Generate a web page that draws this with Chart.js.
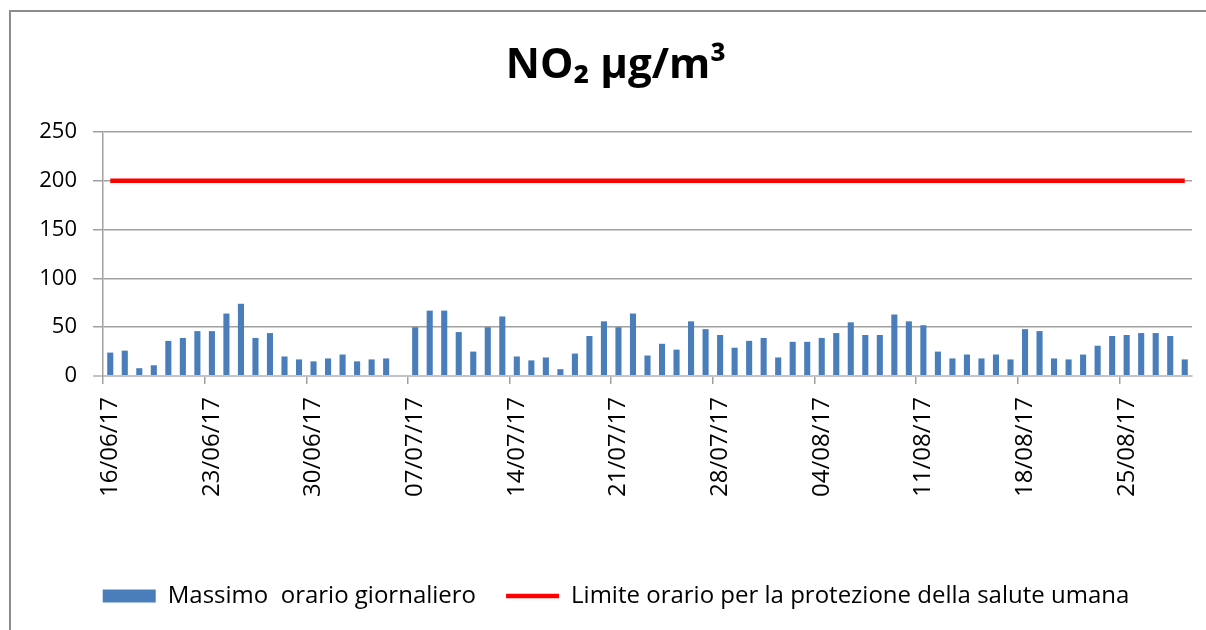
<!DOCTYPE html>
<html>
<head>
<meta charset="utf-8">
<script src="https://cdn.jsdelivr.net/npm/chart.js@4.4.1/dist/chart.umd.min.js"></script>
<style>
  html, body { margin: 0; padding: 0; background: #ffffff; overflow: hidden; }
  #wrap { position: relative; width: 1206px; height: 630px; overflow: hidden; background: #fff; }
  #frame { position: absolute; left: 9px; top: 10px; width: 1300px; height: 700px;
           border: 2px solid #8c8c8c; box-sizing: border-box; pointer-events: none; }
  canvas { position: absolute; left: 0; top: 0; }
</style>
</head>
<body>
<div id="wrap">
  <canvas id="c" width="1206" height="630"></canvas>
  <div id="frame"></div>
</div>
<script>
// ---- Data ----
const categories = [
  '16/06/17','17/06/17','18/06/17','19/06/17','20/06/17','21/06/17','22/06/17','23/06/17','24/06/17','25/06/17',
  '26/06/17','27/06/17','28/06/17','29/06/17','30/06/17','01/07/17','02/07/17','03/07/17','04/07/17','05/07/17',
  '06/07/17','07/07/17','08/07/17','09/07/17','10/07/17','11/07/17','12/07/17','13/07/17','14/07/17','15/07/17',
  '16/07/17','17/07/17','18/07/17','19/07/17','20/07/17','21/07/17','22/07/17','23/07/17','24/07/17','25/07/17',
  '26/07/17','27/07/17','28/07/17','29/07/17','30/07/17','31/07/17','01/08/17','02/08/17','03/08/17','04/08/17',
  '05/08/17','06/08/17','07/08/17','08/08/17','09/08/17','10/08/17','11/08/17','12/08/17','13/08/17','14/08/17',
  '15/08/17','16/08/17','17/08/17','18/08/17','19/08/17','20/08/17','21/08/17','22/08/17','23/08/17','24/08/17',
  '25/08/17','26/08/17','27/08/17','28/08/17','29/08/17'
];
const massimoOrario = [
  24, 26, 8, 11, 36, 39, 46, 46, 64, 74,
  39, 44, 20, 17, 15, 18, 22, 15, 17, 18,
  null, 50, 67, 67, 45, 25, 50, 61, 20, 16,
  19, 7, 23, 41, 56, 50, 64, 21, 33, 27,
  56, 48, 42, 29, 36, 39, 19, 35, 35, 39,
  44, 55, 42, 42, 63, 56, 52, 25, 18, 22,
  18, 22, 17, 48, 46, 18, 17, 22, 31, 41,
  42, 44, 44, 41, 17
];
const limiteOrario = 200;
const tickLabels = ['16/06/17','23/06/17','30/06/17','07/07/17','14/07/17','21/07/17','28/07/17','04/08/17','11/08/17','18/08/17','25/08/17'];
const yTicks = [0, 50, 100, 150, 200, 250];

Chart.defaults.font.family = "'Open Sans', 'Noto Sans', sans-serif";
Chart.defaults.color = '#000000';

const gridGray = '#a0a0a0';

new Chart(document.getElementById('c'), {
  data: {
    labels: categories,
    datasets: [
      {
        type: 'bar',
        label: 'Massimo  orario giornaliero',
        data: massimoOrario,
        backgroundColor: '#4a7ebb',
        borderWidth: 0,
        barPercentage: 0.42,
        categoryPercentage: 1.0,
        pointStyle: 'rect',
        order: 1
      },
      {
        type: 'line',
        label: 'Limite orario per la protezione della salute umana',
        data: [
          { x: categories[0], y: limiteOrario },
          { x: categories[categories.length - 1], y: limiteOrario }
        ],
        borderColor: '#ff0000',
        backgroundColor: '#ff0000',
        borderWidth: 4.5,
        pointRadius: 0,
        pointStyle: 'line',
        fill: false,
        order: 2
      }
    ]
  },
  options: {
    responsive: false,
    animation: false,
    devicePixelRatio: 1,
    layout: { padding: { left: 40, right: 14, top: 10, bottom: 12 } },
    plugins: {
      title: {
        display: true,
        text: 'NO\u2082 \u00b5g/m\u00b3',
        color: '#000',
        font: { size: 42, weight: 'bold', lineHeight: 1.2 },
        padding: { top: 31, bottom: 40.6 }
      },
      legend: {
        position: 'bottom',
        labels: {
          usePointStyle: true,
          pointStyleWidth: 53,
          boxHeight: 13,
          padding: 30,
          color: '#000',
          font: { size: 24 }
        }
      },
      tooltip: { enabled: false }
    },
    scales: {
      x: {
        type: 'category',
        offset: true,
        afterFit: (s) => { s.height = 178; s.paddingLeft = 0; s.paddingRight = 0; },
        grid: {
          offset: true,
          drawOnChartArea: false,
          drawTicks: true,
          tickLength: 8,
          lineWidth: 1.5,
          color: (ctx) => (ctx.index % 7 === 0 ? gridGray : 'rgba(0,0,0,0)')
        },
        border: { display: true, color: '#c4c4c4', width: 2 },
        ticks: {
          autoSkip: false,
          maxRotation: 90,
          minRotation: 90,
          padding: 13,
          color: '#000',
          font: { size: 24 },
          callback: function (value) {
            const lab = this.getLabelForValue(value);
            return tickLabels.includes(lab) ? lab : '';
          }
        }
      },
      y: {
        min: 0,
        max: 250,
        afterFit: (s) => { s.width = 63; },
        afterBuildTicks: (s) => { s.ticks = yTicks.map(v => ({ value: v })); },
        grid: {
          drawTicks: true,
          tickLength: 10,
          color: (ctx) => (ctx.tick && ctx.tick.value === 0 ? '#c4c4c4' : gridGray),
          lineWidth: (ctx) => (ctx.tick && ctx.tick.value === 0 ? 2 : 1.5)
        },
        border: { display: true, color: gridGray, width: 1.5 },
        ticks: {
          padding: 16,
          color: '#000',
          font: { size: 22 }
        }
      }
    }
  }
});
</script>
</body>
</html>
